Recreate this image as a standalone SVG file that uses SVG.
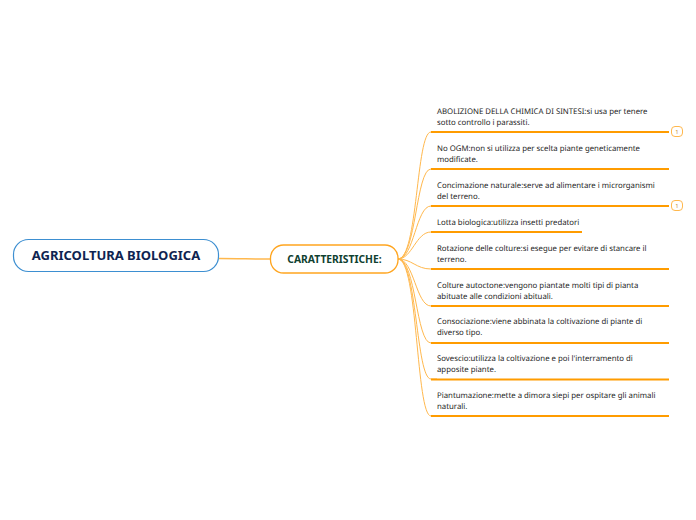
<svg xmlns="http://www.w3.org/2000/svg" width="696" height="520" viewBox="0 0 696 520">
<style>
.t{font-family:"Noto Sans","Open Sans",sans-serif;font-size:7.800px;fill:#262626;text-rendering:geometricPrecision}
.u{fill:none;stroke:#ff9c00;stroke-width:2}
.c{fill:none;stroke:#ffb84d;stroke-width:1}
.b{fill:#fff;stroke:#ffb84d;stroke-width:1}
.bt{font-family:"Noto Sans","Open Sans",sans-serif;font-size:6px;fill:#c98a2a;text-anchor:middle}
</style>
<rect width="696" height="520" fill="#fff"/>
<g id="connectors">
<path class="c" style="stroke-width:1.500" d="M219 258.500C240 258.500 250 259 270 259"/>
<path class="c" d="M398 259C418 259 416 132 431 132H437"/>
<path class="c" d="M398 259C416 259 416 169 431 169H437"/>
<path class="c" d="M398 259C414 259 416 206 431 206H437"/>
<path class="c" d="M398 259C412 259 416 232 431 232H437"/>
<path class="c" d="M398 259C412 259 416 269 431 269H437"/>
<path class="c" d="M398 259C414 259 416 306 431 306H437"/>
<path class="c" d="M398 259C416 259 416 343 431 343H437"/>
<path class="c" d="M398 259C417 259 416 379 431 379H437"/>
<path class="c" d="M398 259C418 259 416 416 431 416H437"/>
</g>
<g id="root"><rect x="13.500" y="239.500" width="205" height="32" rx="15" fill="#fff" stroke="#3d8fd1" stroke-width="1.200"/>
<text x="116" y="260" text-anchor="middle" style="font-family:'Noto Sans','Open Sans',sans-serif;font-size:13px;font-weight:700;fill:#0f2451">AGRICOLTURA BIOLOGICA</text></g>
<g id="caratteristiche"><rect x="270.500" y="245" width="127.500" height="28" rx="13" fill="#fff" stroke="#ffa51f" stroke-width="1.300"/>
<text x="334.500" y="263" text-anchor="middle" style="font-family:'Noto Sans','Open Sans',sans-serif;font-size:10.300px;font-weight:700;fill:#0f4030">CARATTERISTICHE:</text></g>
<g id="n1"><text class="t" x="437" y="114">ABOLIZIONE DELLA CHIMICA DI SINTESI:si usa per tenere</text><text class="t" x="437" y="125">sotto controllo i parassiti.</text><path class="u" d="M431 132H669"/><rect class="b" x="671.500" y="126.500" width="11" height="10" rx="3.500"/><text class="bt" x="677" y="133.500">1</text></g>
<g id="n2"><text class="t" x="437" y="151">No OGM:non si utilizza per scelta piante geneticamente</text><text class="t" x="437" y="162">modificate.</text><path class="u" d="M431 169H669"/></g>
<g id="n3"><text class="t" x="437" y="188">Concimazione naturale:serve ad alimentare i microrganismi</text><text class="t" x="437" y="199">del terreno.</text><path class="u" d="M431 206H669"/><rect class="b" x="671.500" y="200.500" width="11" height="10" rx="3.500"/><text class="bt" x="677" y="207.500">1</text></g>
<g id="n4"><text class="t" x="437" y="225">Lotta biologica:utilizza insetti predatori</text><path class="u" d="M431 232H582"/></g>
<g id="n5"><text class="t" x="437" y="251">Rotazione delle colture:si esegue per evitare di stancare il</text><text class="t" x="437" y="262">terreno.</text><path class="u" d="M431 269H669"/></g>
<g id="n6"><text class="t" x="437" y="288">Colture autoctone:vengono piantate molti tipi di pianta</text><text class="t" x="437" y="299">abituate alle condizioni abituali.</text><path class="u" d="M431 306H669"/></g>
<g id="n7"><text class="t" x="437" y="324">Consociazione:viene abbinata la coltivazione di piante di</text><text class="t" x="437" y="335">diverso tipo.</text><path class="u" d="M431 343H669"/></g>
<g id="n8"><text class="t" x="437" y="361">Sovescio:utilizza la coltivazione e poi  l'interramento di</text><text class="t" x="437" y="372">apposite piante.</text><path class="u" d="M431 379.500H669"/></g>
<g id="n9"><text class="t" x="437" y="398">Piantumazione:mette a dimora siepi per ospitare gli animali</text><text class="t" x="437" y="409">naturali.</text><path class="u" d="M431 416H669"/></g>
</svg>
